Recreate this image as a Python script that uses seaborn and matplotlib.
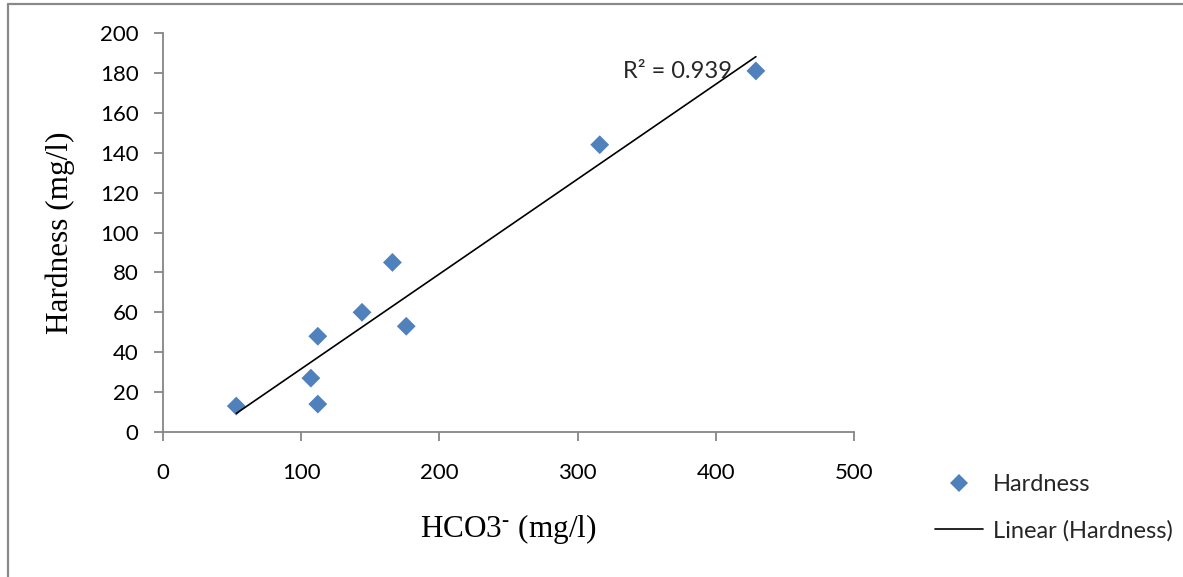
import matplotlib
matplotlib.use("Agg")
import matplotlib.pyplot as plt
import seaborn as sns
import pandas as pd
from matplotlib.lines import Line2D

# 数据
hco3 = [53, 107, 112, 112, 144, 166, 176, 316, 429]
hardness = [13, 27, 14, 48, 60, 85, 53, 144, 181]
r2_label = "R² = 0.939"
x_ticks = [0, 100, 200, 300, 400, 500]
y_ticks = [0, 20, 40, 60, 80, 100, 120, 140, 160, 180, 200]

df = pd.DataFrame({"HCO3": hco3, "Hardness": hardness})

sns.set_theme(style="white")
plt.rcParams.update({
    "font.family": ["Lato", "DejaVu Sans"],
    "mathtext.fontset": "custom",
    "mathtext.rm": "Liberation Serif",
    "mathtext.it": "Liberation Serif:italic",
    "mathtext.bf": "Liberation Serif:bold",
})

blue = "#4F81BD"
grey = "#868686"

fig = plt.figure(figsize=(11.83, 5.77), dpi=100)
ax = fig.add_axes([0.1378, 0.2513, 0.5841, 0.6915])

sns.scatterplot(data=df, x="HCO3", y="Hardness", marker="D", s=92,
                color=blue, edgecolor="none", ax=ax, zorder=2)
sns.regplot(data=df, x="HCO3", y="Hardness", scatter=False, ci=None,
            line_kws={"color": "black", "lw": 1.2}, ax=ax, truncate=True)

ax.set_xlim(0, 500)
ax.set_ylim(0, 200)
ax.set_xticks(x_ticks)
ax.set_yticks(y_ticks)

for s in ["top", "right"]:
    ax.spines[s].set_visible(False)
for s in ["left", "bottom"]:
    ax.spines[s].set_color(grey)
    ax.spines[s].set_linewidth(1.3)

ax.tick_params(axis="both", direction="out", length=6.5, width=1.3,
               color=grey, labelsize=16, labelcolor="black")
ax.tick_params(axis="x", pad=16, bottom=True)
ax.tick_params(axis="y", pad=11, left=True)

ax.set_xlabel("HCO3$^{\\text{-}}$ (mg/l)", fontsize=22.5,
              family="Liberation Serif", color="black")
ax.set_ylabel("Hardness (mg/l)", fontsize=22.5,
              family="Liberation Serif", color="black")
ax.xaxis.set_label_coords(0.5, -0.2)
ax.yaxis.set_label_coords(-0.127, 0.5)

ax.text(333, 180.5, r2_label, fontsize=17, ha="left", va="center")

handles = [
    Line2D([], [], marker="D", ls="none", color=blue, markersize=9.5,
           markeredgewidth=0),
    Line2D([], [], color="black", lw=1.2),
]
fig.legend(handles, ["Hardness", "Linear (Hardness)"], loc="center left",
           bbox_to_anchor=(0.7723, 0.12), frameon=False, fontsize=17,
           handlelength=2.03, handletextpad=0.42, labelspacing=1.07)

# 外框
fig.add_artist(Line2D([8 / 1183, 8 / 1183], [0, 1 - 4 / 577],
                      transform=fig.transFigure, color="#898989", lw=1.6))
fig.add_artist(Line2D([8 / 1183, 1], [1 - 4 / 577, 1 - 4 / 577],
                      transform=fig.transFigure, color="#898989", lw=1.6))

fig.savefig("out.png", dpi=100)
